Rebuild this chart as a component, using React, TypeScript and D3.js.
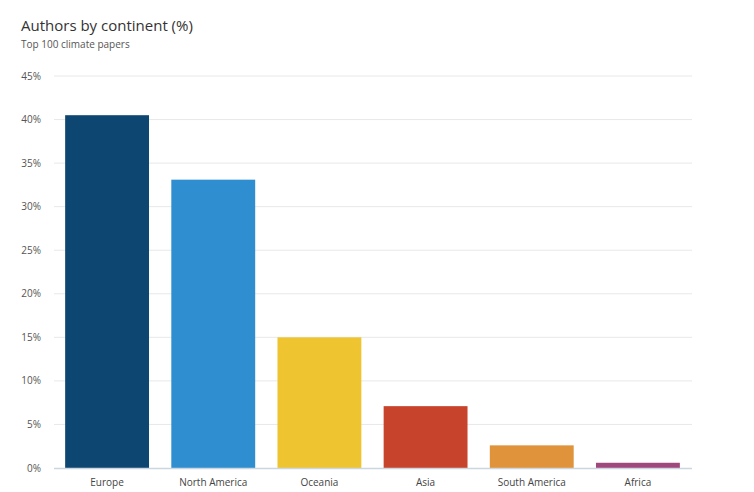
import React from "react";
import * as d3 from "d3";

const categories = ["Europe", "North America", "Oceania", "Asia", "South America", "Africa"];
const values = [40.5, 33.1, 15.0, 7.1, 2.6, 0.6];
const colors = ["#0d4670", "#2f8ecf", "#eec431", "#c8432b", "#e0933a", "#a0477e"];
const yTicks = [0, 5, 10, 15, 20, 25, 30, 35, 40, 45];

const W = 754;
const H = 492;
const left = 54;
const right = 691;
const top = 76;
const bottom = 468;
const font = "'Open Sans', 'DejaVu Sans', sans-serif";

export default function App() {
  const x = d3.scaleBand<string>().domain(categories).range([left, right]).paddingInner(0.21).paddingOuter(0.105);
  const y = d3.scaleLinear().domain([0, 45]).range([bottom, top]);
  return (
    <svg width={W} height={H} style={{ position: "absolute", left: 0, top: 0, background: "#fff" }}>
      <text x={21} y={31} fontFamily={font} fontSize={15} fill="#333">Authors by continent (%)</text>
      <text x={21} y={48} fontFamily={font} fontSize={10} fill="#555">Top 100 climate papers</text>
      {yTicks.map((t) => (
        <g key={t}>
          {t > 0 && <line x1={left} x2={right + 1} y1={y(t)} y2={y(t)} stroke="#e8e8e8" strokeWidth={1} />}
          <text x={41} y={y(t) + 3.5} textAnchor="end" fontFamily={font} fontSize={10} fill="#555">{t}%</text>
        </g>
      ))}
      {categories.map((c, i) => (
        <g key={c}>
          <rect x={x(c)} y={y(values[i])} width={x.bandwidth()} height={bottom - y(values[i])} fill={colors[i]} />
          <text x={(x(c) as number) + x.bandwidth() / 2} y={486} textAnchor="middle" fontFamily={font} fontSize={10} fill="#444">{c}</text>
        </g>
      ))}
      <line x1={left} x2={right + 1} y1={bottom + 0.5} y2={bottom + 0.5} stroke="#ccd6df" strokeWidth={1.5} />
    </svg>
  );
}
